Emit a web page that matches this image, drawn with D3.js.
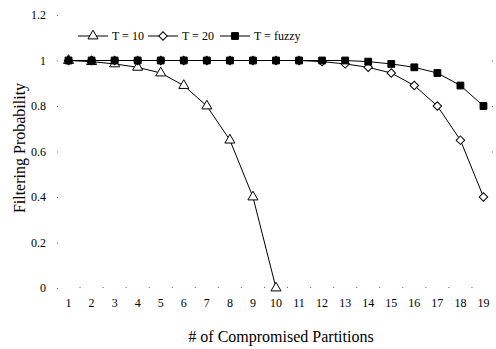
<!DOCTYPE html>
<html>
<head>
<meta charset="utf-8">
<script src="https://cdn.jsdelivr.net/npm/d3@7"></script>
<style>
  body { margin: 0; background: #fff; }
  text { font-family: "Liberation Serif", "Times New Roman", serif; fill: #000; }
</style>
</head>
<body>
<script>
const width = 496;
const height = 349;

// data
const partitions = [1, 2, 3, 4, 5, 6, 7, 8, 9, 10, 11, 12, 13, 14, 15, 16, 17, 18, 19];
const t10 = [1, 0.995, 0.985, 0.97, 0.945, 0.89, 0.80, 0.65, 0.40, 0.0];
const t20 = [1, 1, 1, 1, 1, 1, 1, 1, 1, 1, 1, 0.995, 0.985, 0.97, 0.945, 0.89, 0.80, 0.65, 0.40];
const fuzzy = [1, 1, 1, 1, 1, 1, 1, 1, 1, 1, 1, 1, 1, 0.995, 0.985, 0.97, 0.945, 0.89, 0.80];
const yTicks = [0, 0.2, 0.4, 0.6, 0.8, 1, 1.2];
const legendLabels = ['T = 10', 'T = 20', 'T = fuzzy'];

const svg = d3.select('body')
    .append('svg')
    .attr('width', width)
    .attr('height', height);

const x = d3.scaleBand()
    .domain(partitions)
    .range([57, 495]);
const y = d3.scaleLinear()
    .domain([0, 1.2])
    .range([288, 15]);
const cx = d => x(d) + x.bandwidth() / 2;

// y axis: labels + tiny tick dots, no line
const yAxis = svg.append('g')
    .attr('transform', 'translate(58,0)')
    .call(d3.axisLeft(y).tickValues(yTicks).tickFormat(d3.format('~g')).tickSize(1).tickPadding(11));
yAxis.select('.domain').remove();
yAxis.selectAll('text').style('font-size', '12px').style('font-family', '"Liberation Serif", serif');
yAxis.selectAll('line').attr('stroke', '#666');

// faint dots on right side
svg.append('g')
    .selectAll('rect')
    .data([0.6, 0.8, 1])
    .enter()
    .append('rect')
    .attr('x', 492)
    .attr('y', d => y(d))
    .attr('width', 1)
    .attr('height', 1)
    .attr('fill', '#666');

// x axis: labels at band centres, dots at band boundaries
const xAxis = svg.append('g')
    .attr('transform', 'translate(0,288)')
    .call(d3.axisBottom(x).tickSize(0).tickPadding(10));
xAxis.select('.domain').remove();
xAxis.selectAll('text').style('font-size', '12px').style('font-family', '"Liberation Serif", serif');

svg.append('g')
    .selectAll('rect')
    .data(partitions.slice(1))
    .enter()
    .append('rect')
    .attr('x', d => x(d) - 0.5)
    .attr('y', 287)
    .attr('width', 1)
    .attr('height', 1)
    .attr('fill', '#666');

// axis titles
svg.append('text')
    .attr('x', 281)
    .attr('y', 342)
    .attr('text-anchor', 'middle')
    .style('font-size', '16px')
    .text('# of Compromised Partitions');
svg.append('text')
    .attr('transform', 'translate(25,148) rotate(-90)')
    .attr('text-anchor', 'middle')
    .style('font-size', '16px')
    .text('Filtering Probability');

const line = d3.line()
    .x(d => cx(d[0]))
    .y(d => y(d[1]));

const tri = d3.symbol().type(d3.symbolTriangle).size(44);
const dia = d3.symbol().type(d3.symbolSquare).size(36);
const sq = d3.symbol().type(d3.symbolSquare).size(46);

const series = [
    { vals: t10, shape: tri, fill: '#fff', rot: 0 },
    { vals: t20, shape: dia, fill: '#fff', rot: 45 },
    { vals: fuzzy, shape: sq, fill: '#000', rot: 0 }
];

series.forEach(s => {
    const pts = s.vals.map((v, i) => [partitions[i], v]);
    svg.append('path')
        .attr('d', line(pts))
        .attr('fill', 'none')
        .attr('stroke', '#000')
        .attr('stroke-width', 1);
    svg.append('g')
        .selectAll('path')
        .data(pts)
        .enter()
        .append('path')
        .attr('d', s.shape)
        .attr('transform', d => `translate(${cx(d[0])},${y(d[1])}) rotate(${s.rot})`)
        .attr('fill', s.fill)
        .attr('stroke', '#000')
        .attr('stroke-width', 1);
});

// legend
const legendX = [78, 148, 220];
const legend = svg.append('g')
    .selectAll('g')
    .data(series)
    .enter()
    .append('g')
    .attr('transform', (d, i) => `translate(${legendX[i]},36)`);
legend.append('line')
    .attr('x1', 0)
    .attr('x2', 30)
    .attr('stroke', '#000');
legend.append('path')
    .attr('d', d => d.shape())
    .attr('transform', d => `translate(15,0) rotate(${d.rot})`)
    .attr('fill', d => d.fill)
    .attr('stroke', '#000');
legend.append('text')
    .attr('x', 34)
    .attr('y', 4)
    .style('font-size', '12px')
    .text((d, i) => legendLabels[i]);
</script>
</body>
</html>
